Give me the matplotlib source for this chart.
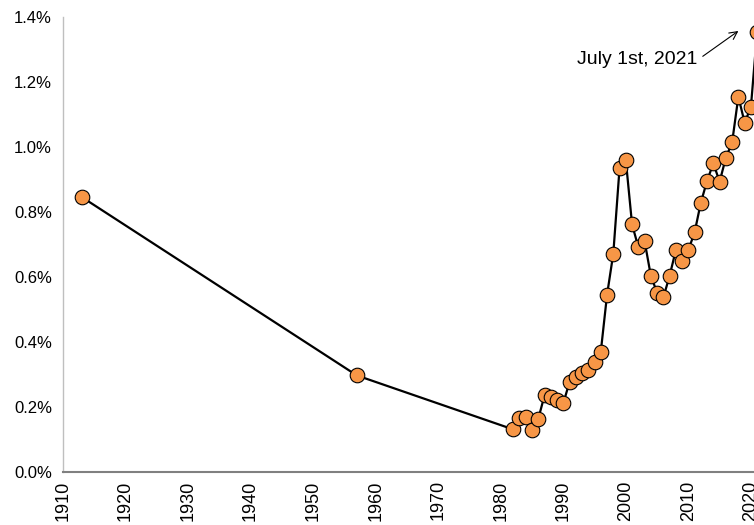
import numpy as np
import matplotlib
matplotlib.use("Agg")
import matplotlib.pyplot as plt
from matplotlib.ticker import FuncFormatter, MultipleLocator

plt.rcParams["font.family"] = ["Liberation Sans", "DejaVu Sans"]

# data (percent)
years = [1913, 1957,
         1982, 1983, 1984, 1985, 1986, 1987, 1988, 1989, 1990,
         1991, 1992, 1993, 1994, 1995, 1996, 1997, 1998, 1999, 2000,
         2001, 2002, 2003, 2004, 2005, 2006, 2007, 2008, 2009, 2010,
         2011, 2012, 2013, 2014, 2015, 2016, 2017, 2018, 2019, 2020,
         2021]
values = [0.846, 0.297,
          0.131, 0.165, 0.168, 0.128, 0.163, 0.236, 0.231, 0.222, 0.211,
          0.277, 0.293, 0.306, 0.314, 0.339, 0.370, 0.545, 0.672, 0.935, 0.960,
          0.762, 0.692, 0.711, 0.604, 0.552, 0.537, 0.603, 0.683, 0.648, 0.683,
          0.737, 0.829, 0.896, 0.950, 0.893, 0.967, 1.014, 1.155, 1.075, 1.122,
          1.355]
note_text = "July 1st, 2021"

ORANGE = "#F79646"

fig = plt.figure(figsize=(7.54, 5.25), dpi=100)
ax = fig.add_axes([63 / 754, 53 / 525, 1 - 63 / 754, 455 / 525])

ax.plot(years, values, color="black", lw=1.6, marker="o", ms=10.5,
        mfc=ORANGE, mec="black", mew=0.8, clip_on=False, zorder=3)

ax.set_xlim(1910, 2020.5)
ax.set_ylim(0, 1.4)
ax.xaxis.set_major_locator(MultipleLocator(10))
ax.yaxis.set_major_locator(MultipleLocator(0.2))
ax.yaxis.set_major_formatter(FuncFormatter(lambda v, p: f"{v:.1f}%"))
ax.tick_params(axis="both", length=0)
ax.tick_params(axis="y", labelsize=12, pad=8)
ax.tick_params(axis="x", labelsize=13, pad=6, labelrotation=90)

for s in ["top", "right"]:
    ax.spines[s].set_visible(False)
ax.spines["left"].set_color("#BFBFBF")
ax.spines["left"].set_linewidth(1.0)
ax.spines["bottom"].set_color("#808080")
ax.spines["bottom"].set_linewidth(1.5)

ax.annotate(note_text, xy=(2018.0, 1.357), xytext=(2011.5, 1.268),
            ha="right", va="center", fontsize=14,
            arrowprops=dict(arrowstyle="->", color="black", lw=0.8,
                            relpos=(1.0, 0.5), shrinkA=2, shrinkB=0))

fig.savefig("out.png", dpi=100)
